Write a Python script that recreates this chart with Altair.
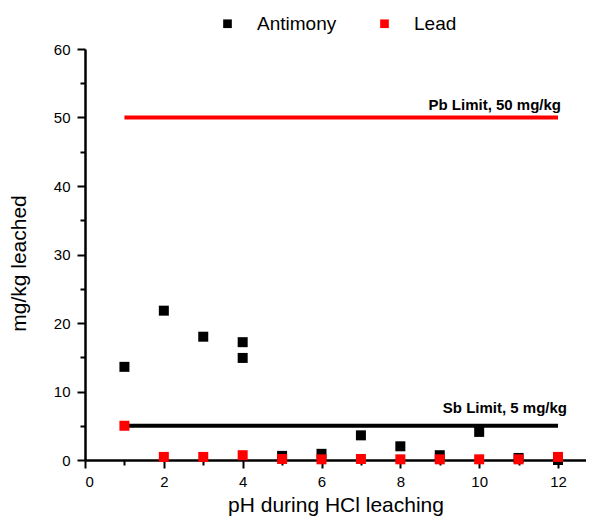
import altair as alt
import pandas as pd

# Data
sb_ph = [1, 2, 3, 4, 4, 5, 6, 7, 8, 9, 10, 11, 12]
sb_val = [13.6, 21.8, 18.0, 17.2, 14.9, 0.6, 0.9, 3.6, 2.0, 0.7, 4.1, 0.3, 0.0]
pb_ph = [1, 2, 3, 4, 5, 6, 7, 8, 9, 10, 11, 12]
pb_val = [5.0, 0.45, 0.45, 0.7, 0.15, 0.1, 0.15, 0.1, 0.1, 0.1, 0.1, 0.45]

series = ["Antimony", "Lead"]
colors = ["#000000", "#ff0000"]

limit_start = [1]
limit_end = [12]
pb_limit = [50]
sb_limit = [5]
pb_label = ["Pb Limit, 50 mg/kg"]
sb_label = ["Sb Limit, 5 mg/kg"]

x_ticks = [0, 1, 2, 3, 4, 5, 6, 7, 8, 9, 10, 11, 12]
y_ticks = [0, 5, 10, 15, 20, 25, 30, 35, 40, 45, 50, 55, 60]

FONT = "Liberation Sans"

pts = pd.DataFrame(
    {"ph": sb_ph + pb_ph,
     "val": sb_val + pb_val,
     "series": ["Antimony"] * len(sb_ph) + ["Lead"] * len(pb_ph),
     "order": [0] * len(sb_ph) + [1] * len(pb_ph)}
)

xscale = alt.Scale(domain=[0, 12.71], nice=False, zero=False)
yscale = alt.Scale(domain=[0, 60], nice=False)

x_axis = alt.Axis(values=x_ticks, title="pH during HCl leaching", grid=False,
                  labelExpr="datum.value % 2 === 0 ? datum.label : ''",
                  domainColor="black", domainWidth=2.5, tickColor="black", tickWidth=2,
                  tickSize={"condition": {"test": "datum.value % 2 === 0", "value": 8}, "value": 5},
                  labelFontSize=15, labelFont=FONT, labelColor="black",
                  labelPadding=6, titleFont=FONT, titleFontSize=21, titleFontWeight="normal",
                  titleColor="black", titleBaseline="alphabetic", titleY=51)
y_axis = alt.Axis(values=y_ticks, title="mg/kg leached", grid=False,
                  labelExpr="datum.value % 10 === 0 ? datum.label : ''",
                  domainColor="black", domainWidth=2.5, tickColor="black", tickWidth=2,
                  tickSize={"condition": {"test": "datum.value % 10 === 0", "value": 8}, "value": 5},
                  labelFontSize=15, labelFont=FONT, labelColor="black",
                  labelPadding=7, titleFont=FONT, titleFontSize=21, titleFontWeight="normal",
                  titleColor="black", titleX=-66, titleY=214, titleBaseline="middle")

pb_df = pd.DataFrame({"x": limit_start, "x2": limit_end, "y": pb_limit, "label": pb_label})
sb_df = pd.DataFrame({"x": limit_start, "x2": limit_end, "y": sb_limit, "label": sb_label})

pb_rule = alt.Chart(pb_df).mark_rule(color="#ff0000", strokeWidth=4).encode(
    x=alt.X("x:Q", scale=xscale, axis=x_axis), x2="x2:Q",
    y=alt.Y("y:Q", scale=yscale, axis=y_axis))
sb_rule = alt.Chart(sb_df).mark_rule(color="#000000", strokeWidth=4).encode(
    x=alt.X("x:Q", scale=xscale, axis=x_axis), x2="x2:Q",
    y=alt.Y("y:Q", scale=yscale, axis=y_axis))

pb_text = alt.Chart(pb_df).mark_text(align="right", baseline="middle", dy=-13, dx=3,
                                      font=FONT, fontSize=15, fontWeight="bold",
                                      color="black").encode(
    x=alt.X("x2:Q", scale=xscale, axis=x_axis), y=alt.Y("y:Q", scale=yscale, axis=y_axis),
    text="label:N")
sb_text = alt.Chart(sb_df).mark_text(align="right", baseline="middle", dy=-18, dx=9,
                                      font=FONT, fontSize=15, fontWeight="bold",
                                      color="black").encode(
    x=alt.X("x2:Q", scale=xscale, axis=x_axis), y=alt.Y("y:Q", scale=yscale, axis=y_axis),
    text="label:N")

points = alt.Chart(pts).mark_square(size=100, opacity=1).encode(
    x=alt.X("ph:Q", scale=xscale, axis=x_axis),
    y=alt.Y("val:Q", scale=yscale, axis=y_axis),
    color=alt.Color("series:N", scale=alt.Scale(domain=series, range=colors),
                    legend=alt.Legend(title=None, orient="none", direction="horizontal",
                                      legendX=133, legendY=-35, symbolType="square",
                                      symbolSize=75, symbolStrokeWidth=0,
                                      labelFont=FONT, labelFontSize=19, labelColor="black",
                                      labelOffset=20, columnPadding=38, padding=0)),
    order="order:Q",
)

chart = alt.layer(pb_rule, sb_rule, pb_text, sb_text, points).properties(
    width=501, height=411,
    padding={"left": 77, "top": 41, "right": 0, "bottom": 56},
    autosize=alt.AutoSizeParams(type="none"),
    background="white",
).configure_view(stroke=None)

chart.save("out.html", embed_options={"renderer": "svg", "actions": False})
